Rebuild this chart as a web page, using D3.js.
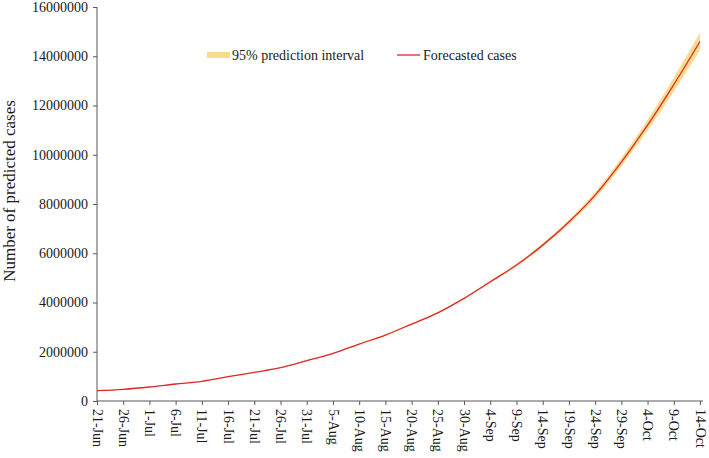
<!DOCTYPE html>
<html>
<head>
<meta charset="utf-8">
<script src="https://cdn.jsdelivr.net/npm/d3@7"></script>
<style>
  html, body { margin: 0; padding: 0; background: #fff; }
  svg { display: block; }
  text { font-family: "Times New Roman", "Liberation Serif", "DejaVu Serif", serif; fill: #1a1a1a; }
</style>
</head>
<body>
<svg id="chart" width="709" height="458"></svg>
<script>
// ---- Data ----
const dateLabels = ["21-Jun","26-Jun","1-Jul","6-Jul","11-Jul","16-Jul","21-Jul","26-Jul","31-Jul",
  "5-Aug","10-Aug","15-Aug","20-Aug","25-Aug","30-Aug","4-Sep","9-Sep","14-Sep","19-Sep",
  "24-Sep","29-Sep","4-Oct","9-Oct","14-Oct"];
const forecast = [418000, 474000, 568000, 690000, 800000, 986000, 1164000, 1351000, 1635000,
  1935000, 2312000, 2677000, 3124000, 3582000, 4166000, 4840000, 5520000, 6330000, 7270000,
  8360000, 9700000, 11200000, 12850000, 14600000];
const lower95 = [414000, 470000, 563000, 684000, 793000, 977000, 1153000, 1338000, 1618000,
  1914000, 2287000, 2648000, 3092000, 3549000, 4136000, 4800000, 5470000, 6260000, 7180000,
  8230000, 9530000, 10980000, 12570000, 14250000];
const upper95 = [422000, 478000, 573000, 696000, 807000, 995000, 1175000, 1364000, 1652000,
  1956000, 2337000, 2706000, 3156000, 3615000, 4196000, 4880000, 5570000, 6400000, 7360000,
  8490000, 9870000, 11420000, 13130000, 14950000];
const yTicks = [0, 2000000, 4000000, 6000000, 8000000, 10000000, 12000000, 14000000, 16000000];
const legendLabels = ["95% prediction interval", "Forecasted cases"];
const yTitle = "Number of predicted cases";

// ---- Setup ----
const svg = d3.select("#chart");
const mLeft = 97, mRight = 700, mTop = 7, mBottom = 401;
const parse = d3.timeParse("%d-%b-%Y");
const dates = dateLabels.map(s => parse(s + "-2020"));
const rows = dates.map((d, i) => ({ date: d, v: forecast[i], lo: lower95[i], hi: upper95[i] }));

const x = d3.scaleTime().domain([dates[0], dates[dates.length - 1]]).range([mLeft, mRight]);
const y = d3.scaleLinear().domain([0, 16000000]).range([mBottom, mTop]);

const axisColor = "#595959";
const bandColor = "#f7dc8f";
const lineColor = "#e0282a";
const serif = '"Times New Roman", "Liberation Serif", serif';

// ---- Band and line ----
svg.append("path")
  .datum(rows)
  .attr("fill", bandColor)
  .attr("d", d3.area().x(d => x(d.date)).y0(d => y(d.lo)).y1(d => y(d.hi)).curve(d3.curveMonotoneX));

svg.append("path")
  .datum(rows)
  .attr("fill", "none")
  .attr("stroke", lineColor)
  .attr("stroke-width", 1.3)
  .attr("d", d3.line().x(d => x(d.date)).y(d => y(d.v)).curve(d3.curveMonotoneX));

// ---- Axes ----
const yAxis = svg.append("g")
  .attr("transform", `translate(${mLeft},0)`)
  .call(d3.axisLeft(y).tickValues(yTicks).tickFormat(d3.format("d")).tickSize(4).tickPadding(5));
yAxis.select(".domain").remove();
yAxis.selectAll("line").attr("stroke", axisColor);
yAxis.selectAll("text").style("font-size", "14px").attr("fill", "#1a1a1a").style("font-family", serif);

const xAxis = svg.append("g")
  .attr("transform", `translate(0,${mBottom})`)
  .call(d3.axisBottom(x).tickValues(dates).tickFormat(d3.timeFormat("%-d-%b")).tickSize(4));
xAxis.select(".domain").remove();
xAxis.selectAll("line").attr("stroke", axisColor);
xAxis.selectAll("text")
  .attr("transform", "rotate(90)")
  .attr("x", 8).attr("y", 0).attr("dy", "0.35em")
  .style("text-anchor", "start")
  .style("font-size", "14px").attr("fill", "#1a1a1a").style("font-family", serif);

// axis lines
svg.append("line").attr("x1", mLeft).attr("x2", mLeft).attr("y1", mTop).attr("y2", mBottom)
  .attr("stroke", axisColor).attr("stroke-width", 1);
svg.append("line").attr("x1", mLeft).attr("x2", mRight + 3).attr("y1", mBottom).attr("y2", mBottom)
  .attr("stroke", axisColor).attr("stroke-width", 1);

// ---- Y title ----
svg.append("text")
  .attr("transform", `translate(15,191) rotate(-90)`)
  .attr("text-anchor", "middle")
  .style("font-size", "17px")
  .text(yTitle);

// ---- Legend ----
const lg = svg.append("g");
lg.append("rect").attr("x", 207).attr("y", 52).attr("width", 23).attr("height", 6).attr("fill", bandColor);
lg.append("text").attr("x", 232).attr("y", 55).attr("dy", "0.35em").style("font-size", "14px").text(legendLabels[0]);
lg.append("line").attr("x1", 397).attr("x2", 420).attr("y1", 55).attr("y2", 55)
  .attr("stroke", lineColor).attr("stroke-width", 1.3);
lg.append("text").attr("x", 423).attr("y", 55).attr("dy", "0.35em").style("font-size", "14px").text(legendLabels[1]);
</script>
</body>
</html>
